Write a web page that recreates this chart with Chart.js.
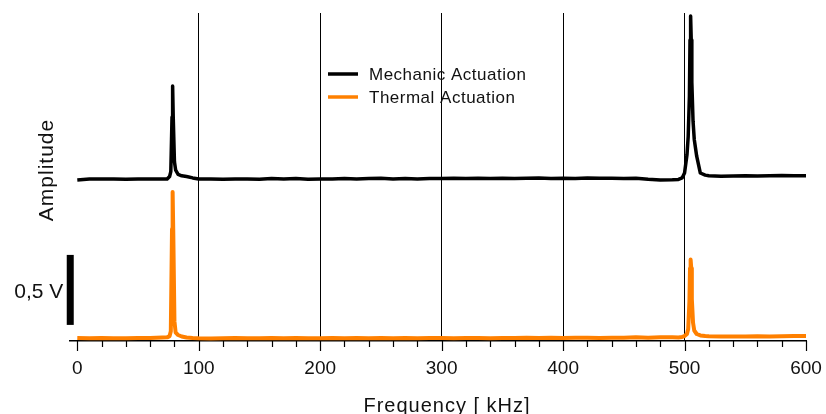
<!DOCTYPE html>
<html>
<head>
<meta charset="utf-8">
<script src="https://cdn.jsdelivr.net/npm/chart.js@4.4.1/dist/chart.umd.min.js"></script>
<style>
  html, body { margin: 0; padding: 0; background: #fff; }
  #wrap { width: 826px; height: 414px; position: relative; }
</style>
</head>
<body>
<div id="wrap"><canvas id="spectrumChart"></canvas></div>
<script>
// Frequenzen in kHz (dichter um die Resonanzen)
const freq = [0, 10, 20, 30, 40, 50, 60, 70, 74, 76, 77, 78, 78.5, 79, 80, 81, 83, 86, 90, 95,
    100, 110, 120, 130, 140, 150, 160, 170, 180, 190, 200, 210, 220, 230, 240, 250, 260, 270, 280, 290,
    300, 310, 320, 330, 340, 350, 360, 370, 380, 390, 400, 410, 420, 430, 440, 450, 460, 470, 480, 490,
    495, 498, 500, 502, 503, 504, 504.5, 505, 505.5, 506, 507, 508, 510, 513, 517, 520,
    530, 540, 550, 560, 570, 580, 590, 600];

// Amplituden in V
const mechanic = [1.150, 1.157, 1.157, 1.157, 1.155, 1.157, 1.157, 1.157, 1.157, 1.175, 1.210, 1.600, 1.821, 1.600, 1.280, 1.220, 1.190, 1.180, 1.175, 1.165,
    1.157, 1.157, 1.155, 1.157, 1.157, 1.155, 1.160, 1.157, 1.160, 1.155, 1.157, 1.157, 1.160, 1.157, 1.160, 1.162, 1.157, 1.160, 1.157, 1.160,
    1.160, 1.162, 1.160, 1.162, 1.160, 1.162, 1.160, 1.162, 1.165, 1.160, 1.162, 1.160, 1.165, 1.162, 1.162, 1.160, 1.162, 1.155, 1.150, 1.152,
    1.154, 1.165, 1.200, 1.330, 1.460, 1.750, 2.150, 2.321, 2.150, 1.850, 1.570, 1.440, 1.320, 1.200, 1.185, 1.180,
    1.177, 1.178, 1.180, 1.178, 1.180, 1.182, 1.180, 1.180];

const thermal = [0.022, 0.020, 0.022, 0.020, 0.020, 0.022, 0.022, 0.025, 0.026, 0.035, 0.070, 0.800, 1.064, 0.800, 0.140, 0.060, 0.043, 0.032, 0.025, 0.022,
    0.020, 0.018, 0.020, 0.022, 0.020, 0.020, 0.022, 0.020, 0.022, 0.020, 0.020, 0.022, 0.020, 0.022, 0.020, 0.022, 0.020, 0.022, 0.020, 0.022,
    0.022, 0.020, 0.022, 0.022, 0.020, 0.022, 0.022, 0.024, 0.022, 0.024, 0.022, 0.024, 0.024, 0.022, 0.024, 0.024, 0.026, 0.024, 0.026, 0.026,
    0.025, 0.029, 0.035, 0.050, 0.085, 0.280, 0.520, 0.582, 0.520, 0.300, 0.130, 0.075, 0.050, 0.040, 0.036, 0.034,
    0.032, 0.033, 0.032, 0.034, 0.033, 0.034, 0.036, 0.035];

const seriesLabels = ['Mechanic Actuation', 'Thermal Actuation'];
const tickValues = [0, 20, 40, 60, 80, 100, 120, 140, 160, 180, 200, 220, 240, 260, 280, 300,
    320, 340, 360, 380, 400, 420, 440, 460, 480, 500, 520, 540, 560, 580, 600];
const gridAt = [100, 200, 300, 400, 500];
// Skalenbalken: 0,5 V
const scaleBar = { x: -5.8, from: 0.115, size: 0.5, label: '0,5 V' };

const FONT = '"Liberation Sans", Arial, Helvetica, sans-serif';

const toPoints = ys => freq.map((f, i) => ({ x: f, y: ys[i] }));

// Zeichnet Ticks, Legende, Achsentitel und Skalenbalken
const decorPlugin = {
    id: 'decor',
    afterDraw(chart) {
        const ctx = chart.ctx;
        const xs = chart.scales.x;
        const ys = chart.scales.y;
        const base = chart.chartArea.bottom;
        ctx.save();

        // Haupt- und Nebenticks
        ctx.strokeStyle = '#000';
        ctx.lineWidth = 1.2;
        tickValues.forEach(v => {
            const x = Math.round(xs.getPixelForValue(v)) + 0.5;
            const len = v % 100 === 0 ? 10 : 6;
            ctx.beginPath();
            ctx.moveTo(x, base);
            ctx.lineTo(x, base + len);
            ctx.stroke();
        });

        // Skalenbalken
        const bx = xs.getPixelForValue(scaleBar.x);
        const by0 = ys.getPixelForValue(scaleBar.from);
        const by1 = ys.getPixelForValue(scaleBar.from + scaleBar.size);
        ctx.fillStyle = '#000';
        ctx.fillRect(bx - 3.5, by1, 7, by0 - by1);
        ctx.font = '21px ' + FONT;
        ctx.textAlign = 'right';
        ctx.textBaseline = 'middle';
        ctx.fillStyle = '#111';
        ctx.fillText(scaleBar.label, bx - 7, (by0 + by1) / 2 + 2);

        // Y-Titel
        ctx.save();
        ctx.translate(47, 170);
        ctx.rotate(-Math.PI / 2);
        ctx.textAlign = 'center';
        ctx.letterSpacing = '1px';
        ctx.font = '21px ' + FONT;
        ctx.fillText('Amplitude', 0, 0);
        ctx.restore();

        // X-Titel
        ctx.textAlign = 'center';
        ctx.textBaseline = 'alphabetic';
        ctx.letterSpacing = '1px';
        ctx.font = '20px ' + FONT;
        ctx.fillText('Frequency [ kHz]', 447, 412);

        // Legende
        ctx.letterSpacing = '0.5px';
        ctx.font = '17px ' + FONT;
        ctx.textAlign = 'left';
        ctx.textBaseline = 'middle';
        chart.data.datasets.forEach((ds, i) => {
            const y = 74 + i * 23;
            ctx.strokeStyle = ds.borderColor;
            ctx.lineWidth = 3.5;
            ctx.beginPath();
            ctx.moveTo(328, y);
            ctx.lineTo(358, y);
            ctx.stroke();
            ctx.fillStyle = '#111';
            ctx.fillText(ds.label, 369, y + 1);
        });
        ctx.restore();
    }
};

new Chart(document.getElementById('spectrumChart'), {
    type: 'line',
    data: {
        datasets: [
            { label: seriesLabels[0], data: toPoints(mechanic), borderColor: '#000', borderWidth: 3.5 },
            { label: seriesLabels[1], data: toPoints(thermal), borderColor: '#ff8000', borderWidth: 4 }
        ]
    },
    options: {
        responsive: true,
        maintainAspectRatio: false,
        animation: false,
        layout: { padding: { left: 70, right: 20, top: 13, bottom: 0 } },
        elements: {
            point: { radius: 0 },
            line: { tension: 0, borderJoinStyle: 'round' }
        },
        plugins: { legend: { display: false }, tooltip: { enabled: false } },
        scales: {
            x: {
                type: 'linear',
                min: -6,
                max: 600,
                afterBuildTicks: s => { s.ticks = tickValues.map(v => ({ value: v })); },
                // feste Höhe, keine zusätzlichen Ränder durch die Beschriftung
                afterFit: s => { s.height = 73; s.paddingLeft = 0; s.paddingRight = 0; },
                border: { display: true, color: '#000', width: 1.5 },
                grid: {
                    drawTicks: false,
                    lineWidth: 1,
                    color: c => (c.tick && gridAt.includes(c.tick.value)) ? '#000' : 'rgba(0,0,0,0)'
                },
                ticks: {
                    autoSkip: false,
                    maxRotation: 0,
                    padding: 16,
                    color: '#111',
                    font: { family: FONT, size: 19 },
                    callback: v => v % 100 === 0 ? v : ''
                }
            },
            y: { display: false, min: 0, max: 2.343 }
        }
    },
    plugins: [decorPlugin]
});
</script>
</body>
</html>
